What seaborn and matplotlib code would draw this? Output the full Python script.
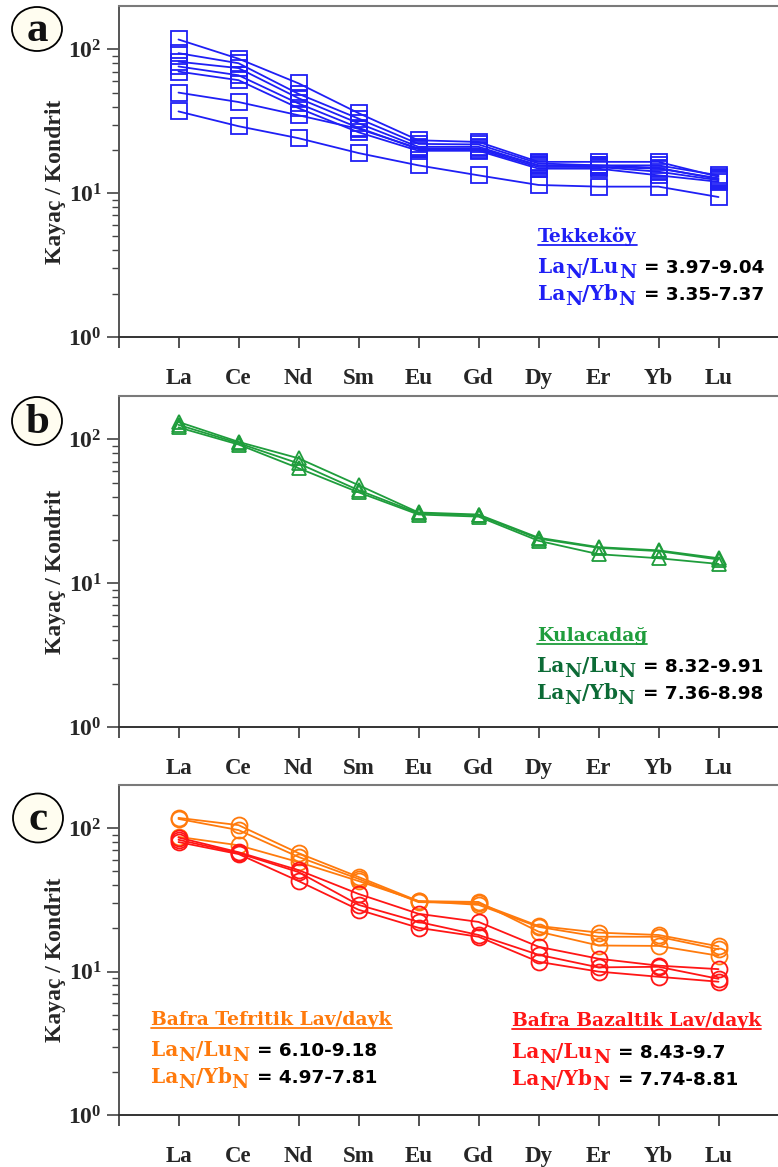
import numpy as np
import pandas as pd
import matplotlib
matplotlib.use("Agg")
import matplotlib.pyplot as plt
import seaborn as sns
from matplotlib.patches import Ellipse
from matplotlib.lines import Line2D
from matplotlib.ticker import FixedLocator, FixedFormatter, NullFormatter

# Chondrite-normalised REE patterns
elements = ["La", "Ce", "Nd", "Sm", "Eu", "Gd", "Dy", "Er", "Yb", "Lu"]

tekkekoy = [
    [117, 86, 58, 36, 23.3, 22.7, 16.5, 16.5, 16.5, 13.0],
    [94, 80, 49, 33, 22, 21.8, 16.1, 15.6, 15.6, 13.3],
    [82, 74, 45.7, 30.6, 21, 21, 15.6, 15.2, 14.8, 12.7],
    [76, 66, 42, 28.5, 20.2, 20.1, 15.2, 15.2, 14.1, 12.3],
    [70, 61, 39, 26.5, 19.7, 19.7, 14.8, 14.8, 13.3, 12.0],
    [50, 43, 34.8, 28, 20.5, 20.5, 15.6, 15.6, 15.0, 12.5],
    [37, 29.2, 24.1, 19, 15.6, 13.3, 11.4, 11.1, 11.1, 9.4],
]
kulacadag = [
    [132, 96, 73.8, 48, 31, 30, 20.7, 17.8, 16.9, 14.9],
    [126, 94, 68, 44.3, 30.6, 29.6, 20.4, 17.6, 16.7, 14.6],
    [121, 92, 63, 42.8, 30, 29, 19.7, 15.9, 14.9, 13.6],
]
bafra_tefritik = [
    [118, 105, 67, 45.7, 31, 30.6, 19.0, 15.2, 15.1, 12.9],
    [116, 97, 63, 44.3, 30.5, 30, 20.8, 18.7, 18.0, 15.0],
    [87, 76, 58, 42.8, 31, 29.2, 20.5, 17.5, 17.5, 14.3],
]
bafra_bazaltik = [
    [86, 68, 51, 34.8, 25.3, 22.2, 14.9, 12.3, 11.0, 10.4],
    [83, 67, 49.4, 29.2, 22.2, 18, 13.1, 10.7, 10.8, 8.9],
    [80, 66, 42.8, 27, 20.2, 17.5, 11.7, 10.0, 9.2, 8.5],
]

group_titles = ["Tekkeköy", "Kulacadağ", "Bafra Tefritik Lav/dayk", "Bafra Bazaltik Lav/dayk"]
lalu_ranges = ["= 3.97-9.04", "= 8.32-9.91", "= 6.10-9.18", "= 8.43-9.7"]
layb_ranges = ["= 3.35-7.37", "= 7.36-8.98", "= 4.97-7.81", "= 7.74-8.81"]

BLUE = "#1f1ff5"
GREEN = "#1f9d3c"
DKGREEN = "#0c6b36"
ORANGE = "#ff7a0c"
RED = "#ff1616"

sns.set_style("ticks")
plt.rcParams["font.family"] = ["Liberation Serif", "DejaVu Serif"]
plt.rcParams["font.weight"] = "bold"
plt.rcParams["mathtext.fontset"] = "custom"
plt.rcParams["mathtext.rm"] = "Liberation Serif:bold"
plt.rcParams["mathtext.bf"] = "Liberation Serif:bold"
plt.rcParams["mathtext.it"] = "Liberation Serif:bold"

W, H = 778, 1167
fig = plt.figure(figsize=(W / 100, H / 100), dpi=100)


def fx(px):
    return px / W


def fy(py):
    return 1 - py / H


LEFT, RIGHT = 118.5, 790


def make_axes(top, bottom):
    ax = fig.add_axes([fx(LEFT), fy(bottom), (RIGHT - LEFT) / W, (bottom - top) / H])
    ax.set_facecolor("none")
    ax.set_yscale("log")
    ax.set_ylim(1, 200)
    ax.set_xlim(0, (RIGHT - LEFT) / 60.0)
    ax.xaxis.set_major_locator(FixedLocator(list(range(0, 11))))
    ax.xaxis.set_major_formatter(FixedFormatter([""] + elements))
    ax.yaxis.set_major_locator(FixedLocator([1, 10, 100]))
    ax.yaxis.set_major_formatter(FixedFormatter(
        [r"$\mathbf{10^{0}}$", r"$\mathbf{10^{1}}$", r"$\mathbf{10^{2}}$"]))
    minors = [m * 10 ** e for e in range(0, 3) for m in range(2, 10) if m * 10 ** e < 200]
    ax.yaxis.set_minor_locator(FixedLocator(minors))
    ax.yaxis.set_minor_formatter(NullFormatter())
    ax.tick_params(axis="x", direction="out", length=8, width=1.2, pad=14,
                   labelsize=16.5, color="#333333")
    ax.tick_params(axis="y", which="major", direction="out", length=9, width=1.2,
                   pad=3, labelsize=17, color="#444444")
    ax.tick_params(axis="y", which="minor", direction="out", length=5, width=1.0,
                   color="#444444")
    ax.spines["right"].set_visible(False)
    ax.spines["top"].set_color("#7a7a7a")
    ax.spines["top"].set_linewidth(1.5)
    ax.spines["left"].set_color("#555555")
    ax.spines["left"].set_linewidth(1.4)
    ax.spines["bottom"].set_color("#333333")
    ax.spines["bottom"].set_linewidth(1.4)
    return ax


def draw_group(ax, samples, color, marker, ms):
    rows = []
    for i, vals in enumerate(samples):
        for j, v in enumerate(vals):
            rows.append((f"s{i}", j + 1, v))
    df = pd.DataFrame(rows, columns=["sample", "pos", "value"])
    sns.lineplot(data=df, x="pos", y="value", units="sample", estimator=None,
                 color=color, marker=marker, markersize=ms,
                 markerfacecolor="none", markeredgecolor=color,
                 markeredgewidth=1.3, linewidth=1.3, ax=ax, legend=False)
    ax.set_xlabel("")
    ax.set_ylabel("")


panels = [(6, 337), (396, 727), (785, 1115)]
axes = [make_axes(t, b) for t, b in panels]

draw_group(axes[0], tekkekoy, BLUE, "s", 11)
draw_group(axes[1], kulacadag, GREEN, "^", 10)
draw_group(axes[2], bafra_tefritik, ORANGE, "o", 11.5)
draw_group(axes[2], bafra_bazaltik, RED, "o", 11.5)

for ax in axes:
    ax.set_xlim(0, (RIGHT - LEFT) / 60.0)
    ax.set_ylim(1, 200)

# y-axis titles
for (t, b) in panels:
    fig.text(fx(56), fy((t + b) / 2 + 10), "Kayaç / Kondrit", rotation=90,
             ha="center", va="center", fontsize=17, fontweight="bold")

# panel letters in cream discs
for letter, (cx, cy, h) in zip("abc", [(37, 29, 44), (37, 421, 48), (38, 818, 49)]):
    fig.add_artist(Ellipse((fx(cx), fy(cy)), 50 / W, h / H, transform=fig.transFigure,
                           facecolor="#fffdf0", edgecolor="black", linewidth=1.3))
    fig.text(fx(cx), fy(cy + 2), letter, ha="center", va="center",
             fontsize=31, fontweight="bold", color="#111111")

fig.canvas.draw()
renderer = fig.canvas.get_renderer()

LABEL_FONT = "DejaVu Serif"
NUM_FONT = "DejaVu Sans"


def put_pieces(x, y, pieces):
    """Write text pieces one after another on a shared baseline (pixel coords)."""
    cur = x
    for text, size, dy, color, family, gap in pieces:
        t = fig.text(fx(cur), fy(y + dy), text, ha="left", va="baseline",
                     fontsize=size, fontweight="bold", color=color, family=family)
        cur = t.get_window_extent(renderer).x1 + gap
    return cur


def ratio_block(x, y_title, y1, y2, idx, title_color, ratio_color):
    t = fig.text(fx(x), fy(y_title), group_titles[idx], ha="left", va="baseline",
                 fontsize=13.5, fontweight="bold", color=title_color, family=LABEL_FONT)
    bb = t.get_window_extent(renderer)
    fig.add_artist(Line2D([bb.x0 / W, bb.x1 / W], [fy(y_title + 3)] * 2,
                          transform=fig.transFigure, color=title_color, linewidth=1.3))
    for yy, second, val in [(y1, "/Lu", lalu_ranges[idx]), (y2, "/Yb", layb_ranges[idx])]:
        put_pieces(x, yy, [
            ("La", 14.5, 0, ratio_color, LABEL_FONT, 0),
            ("N", 13.5, 5, ratio_color, LABEL_FONT, 0),
            (second, 14.5, 0, ratio_color, LABEL_FONT, 0),
            ("N", 13.5, 5, ratio_color, LABEL_FONT, 8),
            (val, 13.2, 0, "black", NUM_FONT, 0),
        ])


ratio_block(538, 241.5, 273, 300, 0, BLUE, BLUE)
ratio_block(537, 641, 672, 699, 1, GREEN, DKGREEN)
ratio_block(151, 1025, 1056, 1083, 2, ORANGE, ORANGE)
ratio_block(512, 1026, 1058, 1085, 3, RED, RED)

fig.savefig("out.png", dpi=100)
